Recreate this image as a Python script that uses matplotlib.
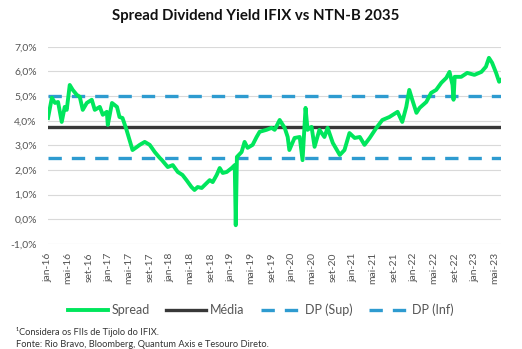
import matplotlib
matplotlib.use('Agg')
import matplotlib.pyplot as plt
import numpy as np
import pandas as pd

plt.rcParams['font.family'] = ['Lato', 'DejaVu Sans']

# spread series (% a.a.)
dates = ['2016-01-01', '2016-01-24', '2016-02-12', '2016-03-01', '2016-03-23', '2016-04-10',
         '2016-04-22', '2016-05-10', '2016-05-28', '2016-06-21', '2016-07-09', '2016-07-27',
         '2016-08-20', '2016-09-19', '2016-10-07', '2016-11-06', '2016-11-24', '2016-12-18',
         '2016-12-24', '2017-01-18', '2017-02-17', '2017-03-04', '2017-03-22', '2017-04-15',
         '2017-05-03', '2017-05-21', '2017-06-15', '2017-07-03', '2017-08-02', '2017-09-01',
         '2017-10-01', '2017-10-31', '2017-11-12', '2017-12-18', '2018-01-17', '2018-02-16',
         '2018-03-16', '2018-04-09', '2018-05-09', '2018-05-27', '2018-06-15', '2018-07-09',
         '2018-08-08', '2018-08-26', '2018-09-13', '2018-10-07', '2018-10-25', '2018-11-12',
         '2018-12-06', '2019-01-05', '2019-01-23', '2019-01-29', '2019-02-05', '2019-03-05',
         '2019-03-23', '2019-04-10', '2019-05-10', '2019-06-03', '2019-06-21', '2019-08-01',
         '2019-09-01', '2019-09-19', '2019-10-19', '2019-11-18', '2019-12-06', '2019-12-16',
         '2020-01-16', '2020-02-16', '2020-03-04', '2020-03-22', '2020-04-03', '2020-04-27',
         '2020-05-15', '2020-06-13', '2020-07-13', '2020-08-01', '2020-09-01', '2020-10-13',
         '2020-11-10', '2020-12-10', '2021-01-10', '2021-02-10', '2021-03-10', '2021-04-10',
         '2021-05-20', '2021-06-25', '2021-08-06', '2021-09-24', '2021-10-22', '2021-11-15',
         '2021-12-03', '2021-12-21', '2022-01-15', '2022-02-03', '2022-03-15', '2022-04-13',
         '2022-05-13', '2022-06-13', '2022-07-13', '2022-08-01', '2022-08-19', '2022-08-25',
         '2022-09-01', '2022-10-10', '2022-11-15', '2022-12-28', '2023-02-08', '2023-03-07',
         '2023-03-25', '2023-04-13', '2023-05-07', '2023-05-25', '2023-06-06']
spread = [4.11, 4.93, 4.72, 4.76, 3.95, 4.56,
          4.44, 5.45, 5.25, 5.05, 4.97, 4.44,
          4.72, 4.85, 4.44, 4.56, 4.24, 4.36,
          3.83, 4.72, 4.56, 4.15, 4.11, 3.63,
          3.22, 2.81, 2.93, 3.02, 3.14, 3.02,
          2.73, 2.49, 2.41, 2.12, 2.20, 1.92,
          1.80, 1.59, 1.31, 1.19, 1.31, 1.27,
          1.47, 1.59, 1.51, 1.80, 2.08, 1.88,
          1.92, 2.08, 2.20, -0.24, 2.53, 2.73,
          3.14, 2.90, 3.02, 3.34, 3.55, 3.63,
          3.71, 3.63, 4.03, 3.71, 3.34, 2.81,
          3.30, 3.34, 2.40, 4.52, 3.63, 3.75,
          2.94, 3.63, 3.34, 3.71, 3.10, 2.61,
          2.81, 3.50, 3.30, 3.34, 3.02, 3.30,
          3.71, 4.03, 4.15, 4.36, 3.95, 4.56,
          5.25, 4.85, 4.32, 4.52, 4.76, 5.13,
          5.25, 5.54, 5.74, 5.98, 5.45, 4.85,
          5.78, 5.78, 5.94, 5.86, 5.98, 6.19,
          6.55, 6.35, 5.94, 5.58, 5.66]

media = 3.75
dp_sup = 5.0
dp_inf = 2.5

tick_dates = pd.date_range('2016-01-01', '2023-05-01', freq='4MS')
meses = {1: 'jan', 5: 'mai', 9: 'set'}
tick_labels = [f"{meses[d.month]}-{d.strftime('%y')}" for d in tick_dates]

x = pd.to_datetime(dates)

fig = plt.figure(figsize=(5.22, 3.49), dpi=100)
ax = fig.add_axes([0.092, 0.301, 0.868, 0.565])

green = '#00E65C'
blue = '#2E9BD0'
ax.plot(x, spread, color=green, lw=2.8, label='Spread', zorder=3, solid_joinstyle='round')
ax.axhline(media, color='#383838', lw=2.4, label='Média', zorder=2)
ax.axhline(dp_sup, color=blue, lw=2.4, ls=(0, (4, 3)), label='DP (Sup)', zorder=2)
ax.axhline(dp_inf, color=blue, lw=2.4, ls=(0, (4, 3)), label='DP (Inf)', zorder=2)

ax.set_xlim(pd.Timestamp('2016-01-01'), pd.Timestamp('2023-06-06'))
ax.set_ylim(-1, 7)
ax.set_yticks(np.arange(-1, 8, 1))
ax.set_yticklabels([f"{v:.1f}%".replace('.', ',') for v in np.arange(-1, 8, 1)])
ax.set_xticks(tick_dates)
ax.set_xticklabels(tick_labels, rotation=90)
ax.tick_params(axis='both', length=0, labelsize=7.5, colors='#555555')
ax.tick_params(axis='y', pad=8)
ax.tick_params(axis='x', pad=6)
ax.grid(axis='y', color='#D9D9D9', lw=0.8)
for s in ax.spines.values():
    s.set_visible(False)

fig.text(0.49, 0.955, 'Spread Dividend Yield IFIX vs NTN-B 2035', ha='center', va='center',
         fontsize=10.8, fontweight='bold', color='#111111')

fig.legend(loc='center', bbox_to_anchor=(0.5, 0.112), ncol=4, frameon=False,
           fontsize=9, handlelength=3.2, columnspacing=1.3, handletextpad=0.3,
           labelcolor='#555555')

fig.text(0.03, 0.048, '¹Considera os FIIs de Tijolo do IFIX.', fontsize=6.7, color='#333333', va='center')
fig.text(0.03, 0.013, 'Fonte: Rio Bravo, Bloomberg, Quantum Axis e Tesouro Direto.', fontsize=6.7,
         color='#333333', va='center')

fig.savefig('out.png', dpi=100)
